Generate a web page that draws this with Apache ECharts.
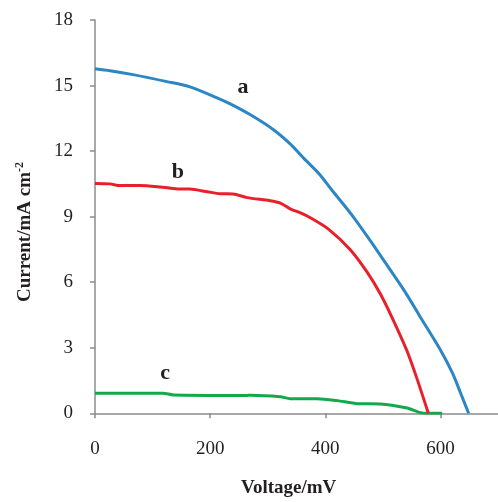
<!DOCTYPE html>
<html>
<head>
<meta charset="utf-8">
<script src="https://cdn.jsdelivr.net/npm/echarts@6/dist/echarts.min.js"></script>
<style>html,body{margin:0;padding:0;background:#fff}#c{width:498px;height:502px}</style>
</head>
<body>
<div id="c"></div>
<script>
var xTicks = [0, 200, 400, 600];
var yTicks = [0, 3, 6, 9, 12, 15, 18];
var seriesNames = ['a', 'b', 'c'];
var curveA = [[0,15.77],[26,15.68],[66,15.5],[125,15.18],[165,14.94],[212,14.44],[235,14.16],[270,13.66],[310,12.98],[339,12.33],[362,11.69],[391,10.91],[411,10.23],[446,9.08],[476,7.98],[501,7.02],[530,5.9],[544,5.33],[565,4.41],[600,2.9],[621,1.84],[635,0.93],[649,0]];
var curveB = [[0,10.52],[26,10.5],[43,10.42],[78,10.43],[113,10.36],[143,10.27],[165,10.26],[195,10.14],[217,10.05],[240,10.04],[264,9.87],[304,9.73],[322,9.62],[339,9.36],[357,9.17],[374,8.95],[406,8.42],[443,7.5],[473,6.45],[496,5.45],[516,4.38],[542,2.85],[560,1.53],[579,0]];
var curveC = [[0,0.92],[118,0.92],[136,0.84],[264,0.82],[270,0.83],[322,0.76],[339,0.67],[386,0.67],[421,0.58],[456,0.44],[496,0.43],[542,0.24],[565,0.03],[580,0],[603,0]];
var labelPos = [[257,14.9],[144,11.05],[122,1.85]];

var colors = ['#2b86c5', '#e8202a', '#13a84c'];
var serif = '"Liberation Serif", "DejaVu Serif", serif';
var curves = [curveA, curveB, curveC];

var chart = echarts.init(document.getElementById('c'));
chart.setOption({
  animation: false,
  grid: {left: 95, top: 20, width: 403, height: 393.3, containLabel: false},
  xAxis: {
    type: 'value', min: 0, max: 700, interval: 100,
    axisLine: {show: true, lineStyle: {color: '#8c8c8c', width: 1.5}},
    axisTick: {show: true, length: 5, customValues: xTicks, lineStyle: {color: '#8c8c8c', width: 1.5}},
    splitLine: {show: false},
    axisLabel: {margin: 26, fontFamily: serif, fontSize: 19, color: '#231f20', customValues: xTicks,
      formatter: function (v) { return xTicks.indexOf(v) >= 0 ? String(v) : ''; }}
  },
  yAxis: {
    type: 'value', min: 0, max: 18, interval: 3,
    axisLine: {show: true, lineStyle: {color: '#8c8c8c', width: 1.5}},
    axisTick: {show: true, length: 5, lineStyle: {color: '#8c8c8c', width: 1.5}},
    splitLine: {show: false},
    axisLabel: {margin: 22, fontFamily: serif, fontSize: 19, color: '#231f20',
      formatter: function (v) { return yTicks.indexOf(v) >= 0 ? String(v) : ''; }}
  },
  graphic: [
    {type: 'text', left: 241, top: 479,
      style: {text: 'Voltage/mV', font: 'bold 19px ' + serif, fill: '#231f20'}},
    {type: 'text', x: 14, y: 302, rotation: Math.PI / 2,
      style: {text: '{t|Current/mA cm}{s|-2}', fill: '#231f20',
        rich: {t: {font: 'bold 19px ' + serif, fill: '#231f20'},
               s: {font: 'bold 12px ' + serif, fill: '#231f20', padding: [0, 0, 10, 0]}}}}
  ],
  series: curves.map(function (d, i) {
    return {
      type: 'line', name: seriesNames[i], data: d, showSymbol: false, symbol: 'none',
      lineStyle: {color: colors[i], width: 3}, smooth: 0.25, z: 3 - i,
      markPoint: {
        symbol: 'circle', symbolSize: 0,
        label: {show: true, position: 'inside', formatter: seriesNames[i],
          fontFamily: serif, fontWeight: 'bold', fontSize: 22, color: '#231f20'},
        data: [{coord: labelPos[i]}]
      }
    };
  })
});
</script>
</body>
</html>
